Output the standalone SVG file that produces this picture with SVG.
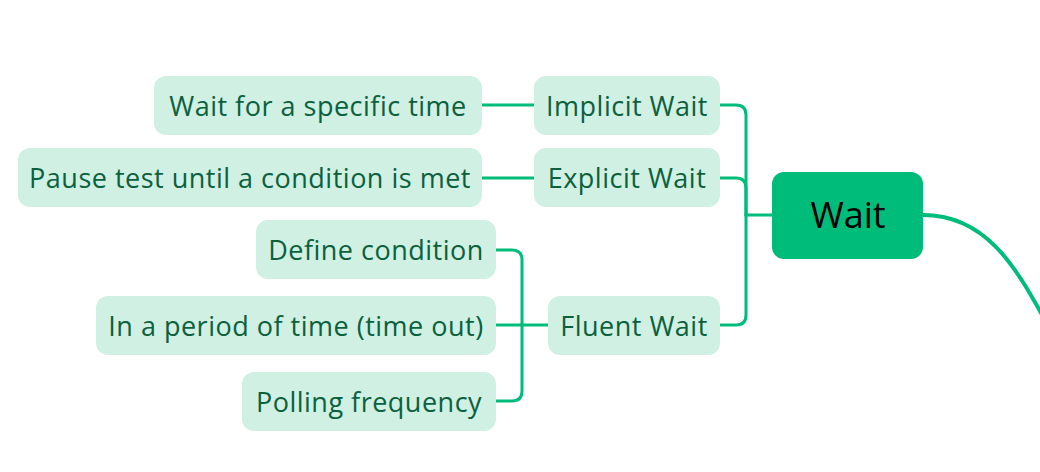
<svg xmlns="http://www.w3.org/2000/svg" width="1040" height="472" viewBox="0 0 1040 472">
<style>
.n{fill:#CFF0E3}
.t{font-family:"Open Sans",Lato,sans-serif;font-size:27px;letter-spacing:0.5px;fill:#0B603D;text-anchor:middle;dominant-baseline:central}
.c{fill:none;stroke:#00BC7A;stroke-width:3;stroke-linecap:round;stroke-linejoin:round}
</style>
<rect width="1040" height="472" fill="#FFFFFF"/>
<g id="connectors">
<path class="c" d="M923,215 C985,215 1015,265 1046,322" style="stroke-width:4"/>
<path class="c" d="M772,215 H746"/>
<path class="c" d="M746,215 V115 Q746,105 736,105 H720"/>
<path class="c" d="M746,215 V188 Q746,178 736,178 H720"/>
<path class="c" d="M746,215 V315 Q746,325 736,325 H720"/>
<path class="c" d="M534,105 H482"/>
<path class="c" d="M534,178 H482"/>
<path class="c" d="M548,325 H496"/>
<path class="c" d="M522,325 V260 Q522,250 512,250 H496"/>
<path class="c" d="M522,325 V391 Q522,401 512,401 H496"/>
</g>
<g id="wait">
<rect x="772" y="172" width="151" height="87" rx="12" fill="#00BC7A"/>
<text x="848" y="214" style="font-family:'Open Sans',Lato,sans-serif;font-size:36px;fill:#000000;text-anchor:middle;dominant-baseline:central">Wait</text>
</g>
<g id="implicit">
<rect class="n" x="534" y="76" width="186" height="59" rx="12"/>
<text class="t" x="627" y="105">Implicit Wait</text>
</g>
<g id="explicit">
<rect class="n" x="534" y="148" width="186" height="59" rx="12"/>
<text class="t" x="627" y="177">Explicit Wait</text>
</g>
<g id="fluent">
<rect class="n" x="548" y="296" width="172" height="59" rx="12"/>
<text class="t" x="634" y="325">Fluent Wait</text>
</g>
<g id="specific">
<rect class="n" x="154" y="76" width="328" height="59" rx="12"/>
<text class="t" x="318" y="105">Wait for a specific time</text>
</g>
<g id="pause">
<rect class="n" x="18" y="148" width="464" height="59" rx="12"/>
<text class="t" x="250" y="177">Pause test until a condition is met</text>
</g>
<g id="define">
<rect class="n" x="256" y="220" width="240" height="59" rx="12"/>
<text class="t" x="376" y="249">Define condition</text>
</g>
<g id="period">
<rect class="n" x="96" y="296" width="400" height="59" rx="12"/>
<text class="t" x="296" y="325">In a period of time (time out)</text>
</g>
<g id="polling">
<rect class="n" x="242" y="372" width="254" height="59" rx="12"/>
<text class="t" x="369" y="401">Polling frequency</text>
</g>
</svg>
